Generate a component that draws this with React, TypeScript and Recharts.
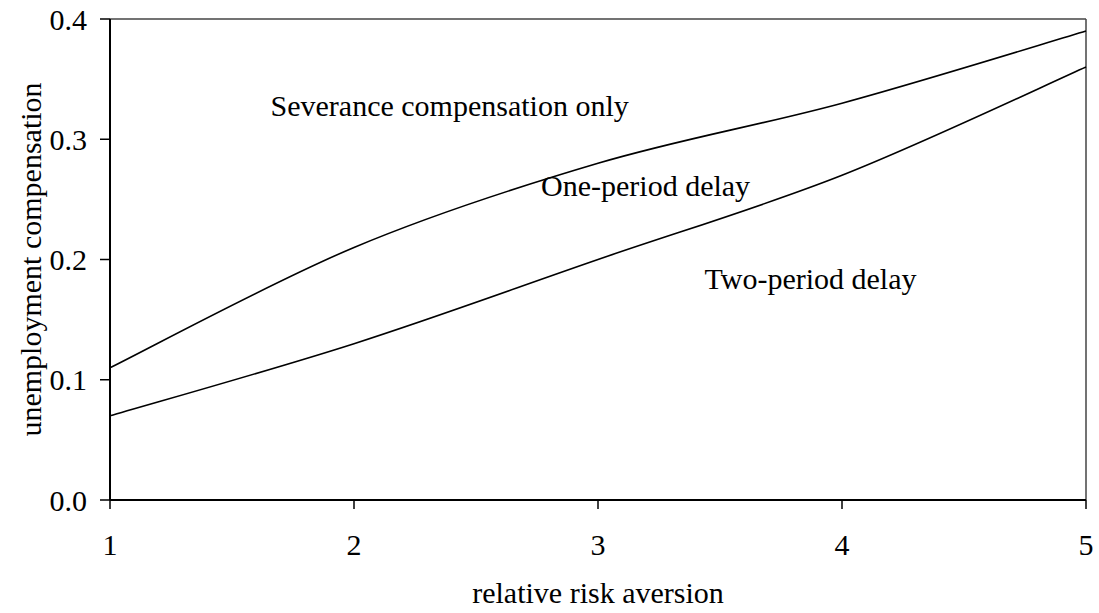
import React from 'react';
import { LineChart, Line, XAxis, YAxis, ReferenceLine, ReferenceDot } from 'recharts';

const riskAversion = [1, 2, 3, 4, 5];
const upperBoundary = [0.11, 0.21, 0.28, 0.33, 0.39];
const lowerBoundary = [0.07, 0.13, 0.2, 0.27, 0.36];
const xTicks = [1, 2, 3, 4, 5];
const yTicks = [0, 0.1, 0.2, 0.3, 0.4];
const regionLabels = ['Severance compensation only', 'One-period delay', 'Two-period delay'];
const regionLabelX = [2.392, 3.195, 3.871];
const regionLabelY = [0.3194, 0.2528, 0.1752];

const data = riskAversion.map((x, i) => ({ x, upper: upperBoundary[i], lower: lowerBoundary[i] }));

const FONT = 'Liberation Serif, Times New Roman, serif';
const FS = 30;

// Excel-like smoothed line (Catmull-Rom style bezier through points)
const excelCurve = (context: any) => {
  let pts: [number, number][] = [];
  return {
    areaStart() {},
    areaEnd() {},
    lineStart() {
      pts = [];
    },
    point(x: number, y: number) {
      pts.push([+x, +y]);
    },
    lineEnd() {
      if (!pts.length) return;
      context.moveTo(pts[0][0], pts[0][1]);
      for (let i = 0; i < pts.length - 1; i++) {
        const p0 = pts[i - 1] || pts[i];
        const p1 = pts[i];
        const p2 = pts[i + 1];
        const p3 = pts[i + 2] || p2;
        context.bezierCurveTo(
          p1[0] + (p2[0] - p0[0]) / 6,
          p1[1] + (p2[1] - p0[1]) / 6,
          p2[0] - (p3[0] - p1[0]) / 6,
          p2[1] - (p3[1] - p1[1]) / 6,
          p2[0],
          p2[1]
        );
      }
    },
  };
};

const tickStyle = { fill: '#000', fontSize: FS, fontFamily: FONT };

export default function App() {
  return (
    <div style={{ position: 'absolute', left: 0, top: 0, width: 1099, height: 613, background: '#fff' }}>
      <LineChart width={1099} height={613} data={data} margin={{ top: 19, right: 13, left: 0, bottom: 0 }}>
        <XAxis
          type="number"
          dataKey="x"
          domain={[1, 5]}
          ticks={xTicks}
          height={113}
          tickSize={9}
          tickMargin={25}
          tick={tickStyle}
          axisLine={{ stroke: '#000', strokeWidth: 2 }}
          tickLine={{ stroke: '#000', strokeWidth: 1.5 }}
          label={{
            content: (props: any) => {
              const vb = props.viewBox;
              return (
                <text
                  x={vb.x + vb.width / 2}
                  y={vb.y + vb.height - 10}
                  textAnchor="middle"
                  fontSize={FS}
                  fontFamily={FONT}
                  fill="#000"
                >
                  relative risk aversion
                </text>
              );
            },
          }}
        />
        <YAxis
          type="number"
          domain={[0, 0.4]}
          ticks={yTicks}
          width={110}
          tickSize={10}
          tickMargin={13}
          tick={tickStyle}
          tickFormatter={(v: number) => v.toFixed(1)}
          axisLine={{ stroke: '#000', strokeWidth: 2 }}
          tickLine={{ stroke: '#000', strokeWidth: 1.5 }}
          label={{
            content: (props: any) => {
              const vb = props.viewBox;
              const cx = vb.x + 41;
              const cy = vb.y + vb.height / 2;
              return (
                <text
                  x={cx}
                  y={cy}
                  transform={`rotate(-90, ${cx}, ${cy})`}
                  textAnchor="middle"
                  fontSize={FS}
                  fontFamily={FONT}
                  fill="#000"
                >
                  unemployment compensation
                </text>
              );
            },
          }}
        />
        <ReferenceLine y={0.4} stroke="#444" strokeWidth={1.5} />
        <ReferenceLine x={5} stroke="#444" strokeWidth={1.5} />
        <Line
          dataKey="upper"
          type={excelCurve as any}
          stroke="#000"
          strokeWidth={1.6}
          dot={false}
          activeDot={false}
          isAnimationActive={false}
        />
        <Line
          dataKey="lower"
          type={excelCurve as any}
          stroke="#000"
          strokeWidth={1.6}
          dot={false}
          activeDot={false}
          isAnimationActive={false}
        />
        {regionLabels.map((t, i) => (
          <ReferenceDot
            key={t}
            x={regionLabelX[i]}
            y={regionLabelY[i]}
            r={0}
            shape={(p: any) => (
              <text x={p.cx} y={p.cy} textAnchor="middle" fontSize={FS} fontFamily={FONT} fill="#000">
                {t}
              </text>
            )}
          />
        ))}
      </LineChart>
    </div>
  );
}
